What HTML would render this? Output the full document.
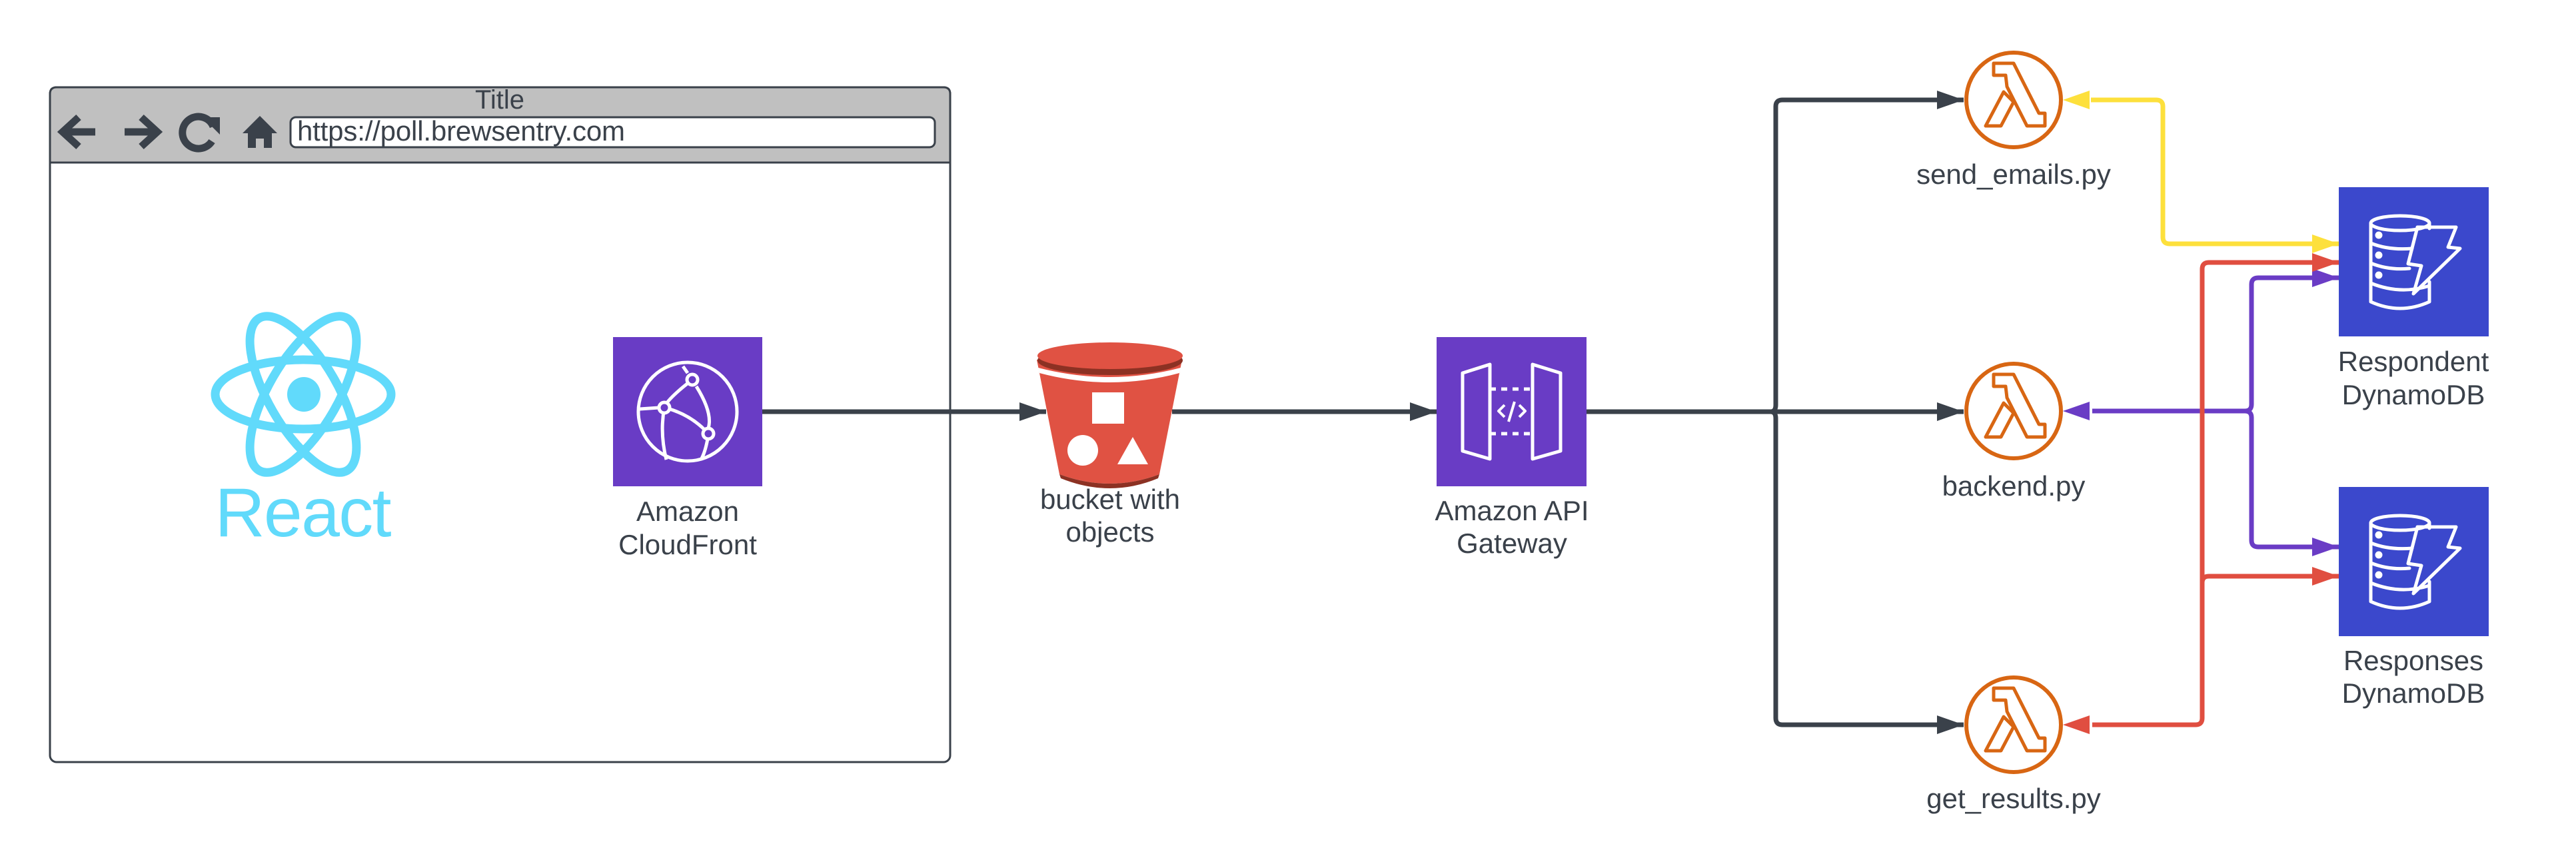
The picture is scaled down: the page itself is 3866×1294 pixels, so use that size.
<!DOCTYPE html>
<html><head><meta charset="utf-8"><style>
html,body{margin:0;padding:0;background:#fff;}
svg{display:block;}
text{font-family:"Liberation Sans",sans-serif;fill:#3a414a;}
</style></head><body>
<svg width="3866" height="1294" viewBox="0 0 3866 1294" xmlns="http://www.w3.org/2000/svg">
<defs>
<marker id="ad" markerWidth="40" markerHeight="28" refX="40" refY="14" orient="auto" markerUnits="userSpaceOnUse"><path d="M0,0 L40,14 L0,28 Z" fill="#3a414a"/></marker>
<marker id="ay" markerWidth="40" markerHeight="28" refX="40" refY="14" orient="auto" markerUnits="userSpaceOnUse"><path d="M0,0 L40,14 L0,28 Z" fill="#fde03c"/></marker>
<marker id="ar" markerWidth="40" markerHeight="28" refX="40" refY="14" orient="auto" markerUnits="userSpaceOnUse"><path d="M0,0 L40,14 L0,28 Z" fill="#e04e40"/></marker>
<marker id="ap" markerWidth="40" markerHeight="28" refX="40" refY="14" orient="auto" markerUnits="userSpaceOnUse"><path d="M0,0 L40,14 L0,28 Z" fill="#6a3cc5"/></marker>
<g id="lam">
<circle cx="0" cy="0" r="71" fill="#fff" stroke="#d86613" stroke-width="6"/>
<path d="M-30,-55 L0,-55 L38,20 L47,20 L47,39 L20,39 L-10,-20 L-12,-37 L-30,-37 Z M-15,-12 L-42,39 L-19,39 L0,3 Z" fill="none" stroke="#d86613" stroke-width="5" stroke-linejoin="round"/>
</g>
<g id="ddb">
<rect x="0" y="0" width="225" height="224" fill="#3b48cc"/>
<g fill="none" stroke="#fff" stroke-width="5" stroke-linejoin="round" stroke-linecap="round">
<ellipse cx="92" cy="54" rx="44" ry="11"/>
<path d="M48,54 L48,172 Q92,192 136,172 L136,142"/>
<path d="M48,84 Q75,95 110,92 M48,114 Q75,125 106,122 M48,144 Q92,162 136,148"/>
<path d="M136,54 L136,62"/>
<path d="M118,60 L176,60 L164,90 L182,92 L112,160 L124,118 L104,115 Z"/>
<circle cx="60" cy="72" r="3" fill="#fff"/><circle cx="60" cy="102" r="3" fill="#fff"/><circle cx="60" cy="132" r="3" fill="#fff"/>
</g>
</g>
</defs>

<!-- Browser -->
<rect x="75" y="131" width="1351" height="1013" rx="10" fill="#fff" stroke="#3a414a" stroke-width="3"/>
<path d="M75,244 L75,141 Q75,131 85,131 L1416,131 Q1426,131 1426,141 L1426,244 Z" fill="#c0c0c0" stroke="#3a414a" stroke-width="3"/>
<text x="750" y="163" font-size="40" text-anchor="middle">Title</text>
<rect x="436" y="176" width="967" height="45" rx="8" fill="#fff" stroke="#3a414a" stroke-width="3"/>
<text x="446" y="211" font-size="42" textLength="492">https://poll.brewsentry.com</text>
<!-- nav icons -->
<path d="M118,176 L94,198 L118,220 M95,198 L143,198" stroke="#3a414a" stroke-width="11" fill="none" stroke-linejoin="miter"/>
<path d="M212,176 L236,198 L212,220 M235,198 L187,198" stroke="#3a414a" stroke-width="11" fill="none"/>
<path d="M320,190 A24,24 0 1 0 318,212" stroke="#3a414a" stroke-width="11" fill="none"/>
<path d="M304,176 L330,176 L330,202 Z" fill="#3a414a"/>
<path d="M390,174 L416,200 L408,200 L408,222 L396,222 L396,208 L384,208 L384,222 L372,222 L372,200 L364,200 Z" fill="#3a414a"/>

<!-- React -->
<g fill="none" stroke="#61dafb" stroke-width="13">
<ellipse cx="455" cy="592" rx="132" ry="52"/>
<ellipse cx="455" cy="592" rx="132" ry="52" transform="rotate(60 455 592)"/>
<ellipse cx="455" cy="592" rx="132" ry="52" transform="rotate(-60 455 592)"/>
</g>
<ellipse cx="456" cy="592" rx="25" ry="26" fill="#61dafb"/>
<text x="455" y="805" font-size="104" text-anchor="middle" textLength="265" style="fill:#61dafb">React</text>

<!-- CloudFront -->
<rect x="920" y="506" width="224" height="224" fill="#693cc5"/>
<g fill="none" stroke="#fff" stroke-width="5">
<circle cx="1032" cy="618" r="74"/>
<path d="M1039,570 Q1000,600 997,612 M997,612 Q990,650 1000,690 M1005,614 Q1040,625 1063,651 M1045,580 Q1070,620 1063,643 M1062,659 Q1058,680 1052,690 M960,614 L989,612 M1025,550 L1032,560"/>
<circle cx="1039" cy="570" r="8" fill="#693cc5"/><circle cx="997" cy="612" r="8" fill="#693cc5"/><circle cx="1063" cy="651" r="8" fill="#693cc5"/>
</g>
<text x="1032" y="782" font-size="42" text-anchor="middle">Amazon</text>
<text x="1032" y="832" font-size="42" text-anchor="middle">CloudFront</text>

<!-- Bucket -->
<path d="M1556,540 L1590,712 Q1666,740 1740,712 L1774,540 Z" fill="#e05243"/>
<path d="M1590,712 Q1666,740 1740,712 L1738,718 Q1666,748 1592,718 Z" fill="#8c3123"/>
<path d="M1558,552 Q1666,580 1772,552 L1770,560 Q1666,588 1560,560 Z" fill="#fff"/>
<ellipse cx="1666" cy="541" rx="109" ry="22" fill="#8c3123"/>
<ellipse cx="1666" cy="534" rx="109" ry="20" fill="#e05243"/>
<rect x="1639" y="589" width="48" height="47" fill="#fff"/>
<circle cx="1625" cy="676" r="23" fill="#fff"/>
<path d="M1700,656 L1723,697 L1677,697 Z" fill="#fff"/>
<text x="1666" y="764" font-size="42" text-anchor="middle">bucket with</text>
<text x="1666" y="813" font-size="42" text-anchor="middle">objects</text>

<!-- API Gateway -->
<rect x="2156" y="506" width="225" height="224" fill="#693cc5"/>
<g fill="none" stroke="#fff" stroke-width="5" stroke-linejoin="round">
<path d="M2195,560 L2236,547 L2236,689 L2195,677 Z"/>
<path d="M2342,560 L2300,547 L2300,689 L2342,677 Z"/>
<path d="M2236,584 L2300,584 M2236,651 L2300,651" stroke-dasharray="9,8"/>
<path d="M2258,608 L2249,617 L2258,626 M2280,608 L2289,617 L2280,626 M2273,603 L2264,633" stroke-width="4"/>
</g>
<text x="2269" y="781" font-size="42" text-anchor="middle">Amazon API</text>
<text x="2269" y="830" font-size="42" text-anchor="middle">Gateway</text>

<!-- Dark connectors -->
<g fill="none" stroke="#3a414a" stroke-width="7">
<path d="M1144,618 L1570,618" marker-end="url(#ad)"/>
<path d="M1759,618 L2156,618" marker-end="url(#ad)"/>
<path d="M2381,618 L2947,618" marker-end="url(#ad)"/>
<path d="M2657,618 Q2665,618 2665,608 L2665,160 Q2665,150 2675,150 L2947,150" marker-end="url(#ad)"/>
<path d="M2657,618 Q2665,618 2665,628 L2665,1078 Q2665,1088 2675,1088 L2947,1088" marker-end="url(#ad)"/>
</g>

<!-- Lambdas -->
<use href="#lam" x="3022" y="150"/>
<use href="#lam" x="3022" y="617"/>
<use href="#lam" x="3022" y="1088"/>
<text x="3022" y="276" font-size="42" text-anchor="middle">send_emails.py</text>
<text x="3022" y="744" font-size="42" text-anchor="middle">backend.py</text>
<text x="3022" y="1213" font-size="42" text-anchor="middle">get_results.py</text>

<!-- DynamoDB -->
<use href="#ddb" x="3510" y="281"/>
<use href="#ddb" x="3510" y="731"/>
<text x="3622" y="557" font-size="42" text-anchor="middle">Respondent</text>
<text x="3622" y="607" font-size="42" text-anchor="middle">DynamoDB</text>
<text x="3622" y="1006" font-size="42" text-anchor="middle">Responses</text>
<text x="3622" y="1055" font-size="42" text-anchor="middle">DynamoDB</text>

<!-- Colored connectors -->
<g fill="none" stroke-width="7">
<path d="M3138,150 L3236,150 Q3246,150 3246,160 L3246,356 Q3246,366 3256,366 L3510,366" stroke="#fde03c" marker-end="url(#ay)"/>
<path d="M3140,617 L3369,617" stroke="#6a3cc5"/>
<path d="M3369,617 Q3379,617 3379,607 L3379,427 Q3379,417 3389,417 L3510,417" stroke="#6a3cc5" marker-end="url(#ap)"/>
<path d="M3369,617 Q3379,617 3379,627 L3379,811 Q3379,821 3389,821 L3510,821" stroke="#6a3cc5" marker-end="url(#ap)"/>
<path d="M3140,1088 L3295,1088 Q3305,1088 3305,1078 L3305,404 Q3305,394 3315,394 L3510,394" stroke="#e04e40" marker-end="url(#ar)"/>
<path d="M3305,875 Q3305,865 3315,865 L3510,865" stroke="#e04e40" marker-end="url(#ar)"/>
</g>
<path d="M3096,150 L3136,136 L3136,164 Z" fill="#fde03c"/>
<path d="M3096,617 L3136,603 L3136,631 Z" fill="#6a3cc5"/>
<path d="M3096,1088 L3136,1074 L3136,1102 Z" fill="#e04e40"/>
</svg>
</body></html>
